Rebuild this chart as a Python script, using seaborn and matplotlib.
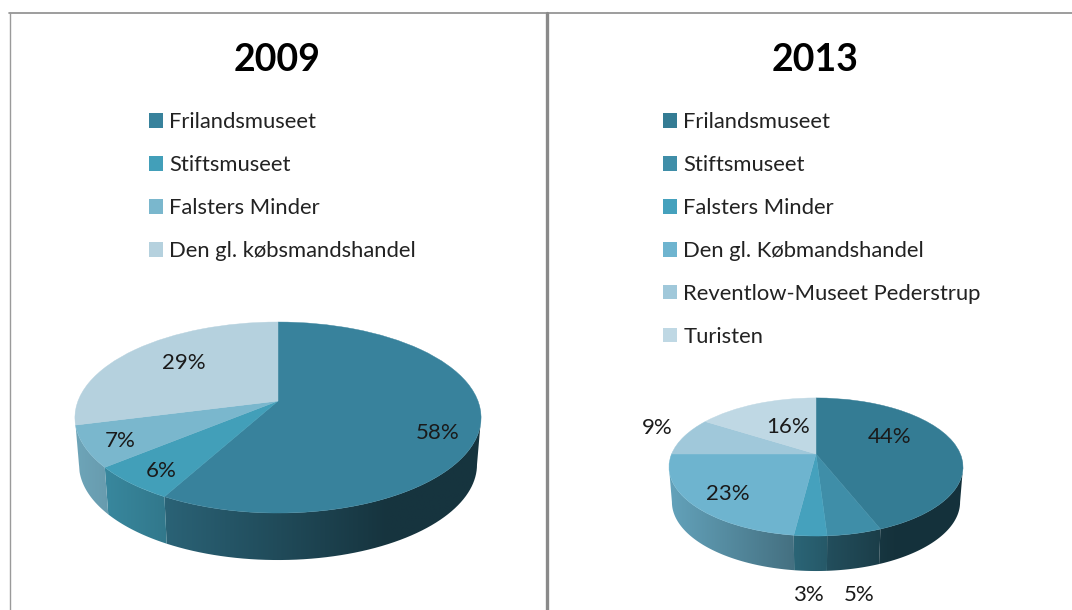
# two 3d-looking pies, 2009 vs 2013
import matplotlib
matplotlib.use("Agg")
import matplotlib.pyplot as plt
from matplotlib.colors import to_rgb
from matplotlib.lines import Line2D
from matplotlib.patches import Patch, PathPatch
from matplotlib.path import Path
import numpy as np
import seaborn as sns

W, H = 1072, 610

labels_2009 = ["Frilandsmuseet", "Stiftsmuseet", "Falsters Minder", "Den gl. købsmandshandel"]
values_2009 = [58, 6, 7, 29]
colors_2009 = ["#38829c", "#429fb9", "#7ab7cd", "#b5d1de"]

labels_2013 = ["Frilandsmuseet", "Stiftsmuseet", "Falsters Minder", "Den gl. Købmandshandel",
               "Reventlow-Museet Pederstrup", "Turisten"]
values_2013 = [44, 5, 3, 23, 9, 16]
colors_2013 = ["#347c94", "#3f8ea8", "#45a1bd", "#6eb4cf", "#a0c8da", "#bfd8e4"]

# where the percentages sit, in picture pixels
label_pos_2009 = [(438, 433), (161, 471), (120, 441), (184, 363)]
label_pos_2013 = [(890, 437), (859, 595), (808, 595), (728, 494), (657, 428), (788, 427)]

sns.set_theme(style="white")
plt.rcParams["font.family"] = ["Lato", "DejaVu Sans"]

fig = plt.figure(figsize=(W / 100, H / 100), dpi=100, facecolor="white")


def warp(v, a, b, k):
    # perspective squash of the unit disc, far side is smaller
    d = 1 + k * v[:, 1]
    return np.column_stack([b * v[:, 0] / d, a * v[:, 1] / d])


def draw_pie(values, colors, names, label_pos, title, cx, cy, a, b, k, depth, title_x, legend_x):
    ax = fig.add_axes([0, 0, 1, 1])
    ax.patch.set_alpha(0)
    wedges, _ = ax.pie(values, colors=colors, startangle=90, counterclock=False)
    half = b / np.sqrt(1 - k ** 2)
    # clockwise from 90 the wedge angles run negative, front of the disc is in there
    t0 = -180 + np.degrees(np.arcsin(k))
    t1 = -np.degrees(np.arcsin(k))
    for w, c in zip(wedges, colors):
        # side of the disc, bottom edge a bit narrower than the top
        lo, hi = max(w.theta1, t0), min(w.theta2, t1)
        if lo < hi:
            t = np.radians(np.linspace(lo, hi, 60))
            top = warp(np.column_stack([np.cos(t), np.sin(t)]), a, b, k)
            low = top[::-1] * [0.98, 1] - [0, depth]
            rim = PathPatch(Path(np.vstack([top, low, top[:1]]), closed=True), fc="none", ec="none")
            ax.add_patch(rim)
            # a few px wider than the slice so the slanted ends stay covered
            xs = np.linspace(top[:, 0].min() - 8, top[:, 0].max() + 8, 80)
            shade = np.interp((xs + half) / (2 * half), [0, 0.77, 1], [0.9, 0.4, 0.4])
            img = (shade[:, None] * np.array(to_rgb(c)))[None, :, :]
            im = ax.imshow(img, extent=(xs[0], xs[-1], low[:, 1].min() - 1, top[:, 1].max() + 1),
                           aspect="auto", interpolation="bilinear", zorder=1)
            im.set_clip_path(rim)
        # top face
        p = w.get_path()
        ax.add_patch(PathPatch(Path(warp(p.vertices, a, b, k), p.codes), fc=c, ec=c, lw=0.3, zorder=2))
        w.remove()
    ax.set_aspect("auto")
    ax.set_xlim(-cx, W - cx)
    ax.set_ylim(cy - H, cy)
    ax.set_xticks([])
    ax.set_yticks([])

    for v, (x, y) in zip(values, label_pos):
        ax.text(x - cx, cy - y, f"{v}%", ha="center", va="center", fontsize=16, color="#1a1a1a", zorder=3)

    ax.text(title_x / W, 1 - 60 / H, title, transform=ax.transAxes, ha="center", va="center",
            fontsize=27, fontweight="bold", color="black")

    handles = [Patch(fc=c, ec="none") for c in colors]
    ax.legend(handles, names, loc="upper left", bbox_to_anchor=(legend_x / W, 1 - 112.5 / H),
              frameon=False, fontsize=15.8, labelspacing=1.04, handlelength=0.65, handleheight=0.65,
              handletextpad=0.27, borderpad=0, borderaxespad=0, labelcolor="#222222")
    return ax


draw_pie(values_2009, colors_2009, labels_2009, label_pos_2009, "2009",
         278, 401, 92.65, 200, 0.173, 47, 277, 149)
draw_pie(values_2013, colors_2013, labels_2013, label_pos_2013, "2013",
         816, 454, 66.6, 144.4, 0.188, 35, 815, 663)

# frame lines of the slide
fig.add_artist(Line2D([9 / W, 1], [1 - 13 / H] * 2, color="#8c8c8c", lw=1.2))
fig.add_artist(Line2D([9.5 / W] * 2, [0, 1 - 13 / H], color="#9a9a9a", lw=1.0))
fig.add_artist(Line2D([547 / W] * 2, [0, 1 - 13 / H], color="#8a8a8a", lw=2.4))

fig.savefig("out.png", dpi=100)
